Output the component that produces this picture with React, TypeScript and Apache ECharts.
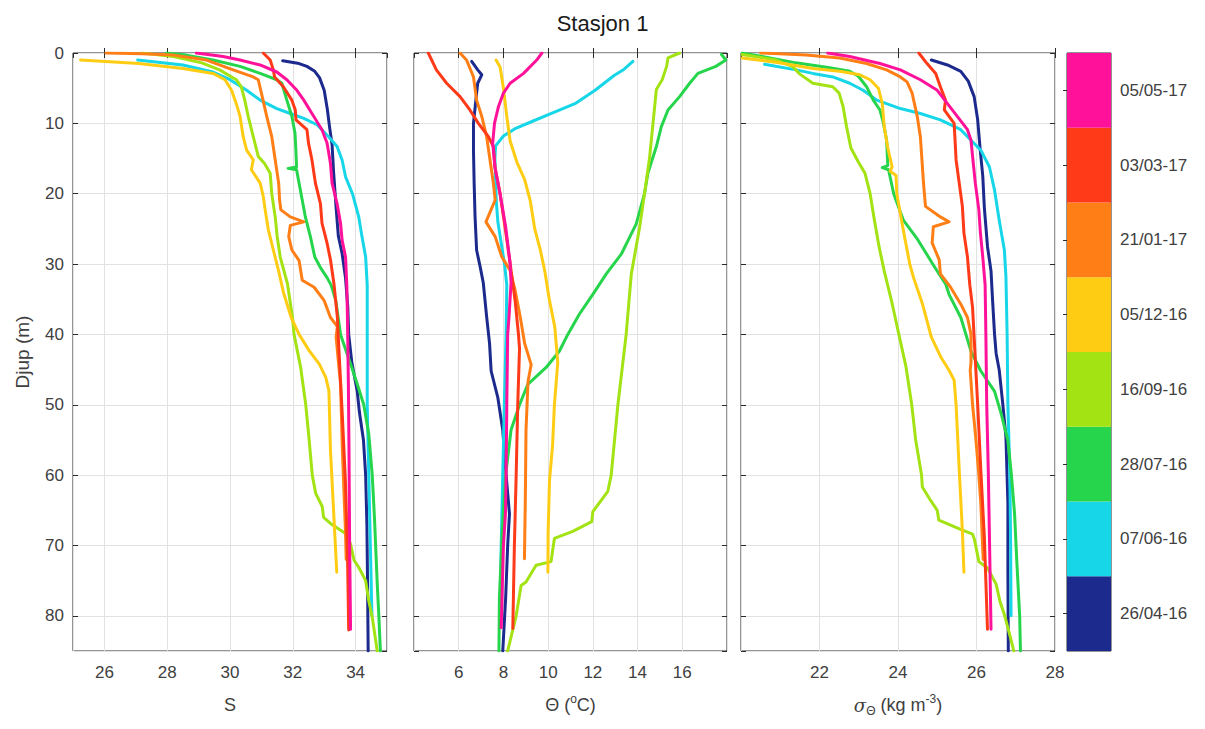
import React, { useEffect, useRef } from 'react';
import * as echarts from 'echarts';

// ---- categories (survey dates) and their colours ----
const dates = ['26/04-16', '07/06-16', '28/07-16', '16/09-16', '05/12-16', '21/01-17', '03/03-17', '05/05-17'];
const dateColors = ['#1b2a8c', '#16d6e8', '#26d54b', '#a3e314', '#ffcc14', '#ff7f16', '#ff3a18', '#ff1299'];

// ---- Salinity S, pairs [S, depth m] ----
const sal_260416 = [[31.68,1.1],[32.2,1.5],[32.45,1.9],[32.7,2.6],[32.85,3.5],[33.0,5.3],[33.1,8],[33.17,10.5],[33.25,13],[33.3,17],[33.38,22],[33.45,26],[33.57,28.5],[33.68,32],[33.75,36],[33.78,40],[33.88,44],[34.05,48],[34.12,51],[34.25,55],[34.32,60],[34.36,67],[34.38,75],[34.4,85]];
const sal_070616 = [[27.06,1],[28.5,1.7],[29.46,2.7],[30.0,3.8],[30.53,5.3],[30.96,6.7],[31.49,7.9],[31.92,8.6],[32.35,9.3],[32.77,10.2],[33.14,11.9],[33.41,13.3],[33.57,15.2],[33.68,17.6],[33.9,20],[34.1,23.3],[34.2,26],[34.32,29],[34.37,33],[34.37,40],[34.37,50],[34.42,60],[34.47,70],[34.52,80]];
const sal_280716 = [[27.97,0],[28.6,0.3],[29.46,1],[30.32,1.9],[30.96,2.9],[31.49,3.8],[31.65,4.3],[31.81,6.7],[31.97,9],[32.07,11.4],[32.1,14],[32.12,16.2],[31.85,16.4],[32.12,16.6],[32.2,18.5],[32.3,20.9],[32.4,23.3],[32.56,26.1],[32.7,29],[32.88,30.5],[33.1,32],[33.22,33],[33.37,35.2],[33.52,40],[33.84,44.2],[34.05,47],[34.26,50],[34.42,54.2],[34.53,60],[34.6,66],[34.69,75.5],[34.74,80],[34.79,85]];
const sal_160916 = [[27.2,0],[28.2,0.5],[29.1,1.4],[29.67,2.4],[30.2,3.8],[30.36,4.8],[30.47,6.7],[30.58,9],[30.74,11.9],[30.9,14.7],[31.1,15.7],[31.28,17.1],[31.33,20],[31.44,23.3],[31.5,26],[31.6,29],[31.83,32.8],[31.99,37.6],[32.04,40],[32.25,44.7],[32.41,49.9],[32.5,54],[32.62,60],[32.73,62.6],[32.94,64.5],[32.98,66],[33.21,66.9],[33.68,68.3],[33.84,69.8],[33.95,72.1],[34.1,73.1],[34.32,75],[34.42,77.9],[34.53,80.2],[34.69,85]];
const sal_051216 = [[25.24,1],[27.1,1.5],[28.5,2.2],[29.46,2.9],[29.84,3.8],[30.05,5.3],[30.2,7.2],[30.32,9],[30.42,11.9],[30.53,13.8],[30.74,15.2],[30.68,16.6],[30.96,18.5],[31.06,20.4],[31.12,22.3],[31.22,25.1],[31.38,28],[31.55,31],[31.7,34],[31.95,37.6],[32.2,40],[32.52,42.3],[32.84,44.2],[33.05,46.1],[33.15,48],[33.2,56.5],[33.31,66],[33.4,73.8]];
const sal_210117 = [[26.05,0],[27.2,0.1],[28.2,0.3],[29.25,1],[30.1,2.4],[30.74,3.4],[30.9,3.8],[31.0,5.7],[31.17,9],[31.33,11.9],[31.44,15.2],[31.55,18.5],[31.58,20.9],[31.62,22.3],[31.92,23.3],[32.35,24],[31.92,24.5],[31.87,26.1],[31.97,28],[32.2,29.5],[32.3,32.3],[32.68,33.3],[33.0,35.2],[33.2,37.6],[33.42,38.9],[33.38,40.4],[33.47,44.7],[33.52,47],[33.58,56.5],[33.68,68.3],[33.7,72]];
const sal_030317 = [[31.06,0],[31.28,1],[31.38,2.4],[31.42,3.4],[31.7,4.8],[31.97,6.7],[32.08,8.1],[32.1,9.5],[32.45,10.9],[32.5,12.8],[32.61,15.2],[32.72,18.5],[32.88,21.4],[32.93,24.2],[33.09,27],[33.2,29.4],[33.31,32.8],[33.42,37.6],[33.47,42.3],[33.58,51.8],[33.68,61.3],[33.74,70.8],[33.78,82]];
const sal_050517 = [[28.93,0],[29.78,0.5],[30.32,1],[30.96,1.7],[31.49,2.7],[31.81,3.8],[32.13,5.3],[32.35,6.7],[32.61,8.6],[32.93,10.9],[33.09,12.8],[33.2,15.7],[33.25,18.5],[33.41,21.4],[33.52,24.2],[33.57,26.6],[33.68,29],[33.72,33],[33.74,37.6],[33.77,47],[33.79,56.5],[33.81,70],[33.84,81.9]];

// ---- Potential temperature Θ (°C), pairs [Θ, depth m] ----
const temp_260416 = [[6.58,1.2],[6.85,2.4],[7.03,3.1],[6.85,4.3],[6.8,5.7],[6.66,10],[6.66,13.8],[6.69,18.5],[6.73,23.2],[6.8,28],[6.96,30.4],[7.1,32.7],[7.25,37.5],[7.38,41.3],[7.45,45.2],[7.75,49],[7.97,53.6],[8.12,60],[8.27,65.5],[8.19,70],[8.1,77.4],[7.97,85]];
const temp_070616 = [[13.79,1.2],[13.4,2.3],[12.95,3.2],[12.1,5.3],[11.2,7.2],[10.2,8.5],[9.3,9.7],[8.5,10.8],[8.0,11.8],[7.65,13.2],[7.62,15],[7.65,18],[7.68,21],[7.75,24],[7.9,27],[8.05,30],[8.15,33],[8.12,40],[8.04,50],[7.97,60],[7.9,70],[7.85,80]];
const temp_280716 = [[17.75,0.2],[17.95,1],[17.5,1.9],[16.7,2.9],[16.33,4.3],[15.88,6.2],[15.36,8.1],[15.06,10.5],[14.84,13.3],[14.46,17.1],[14.31,20],[13.94,24.3],[13.27,28.6],[12.6,31.4],[12.0,34.3],[11.4,37.1],[10.88,40],[10.5,42.4],[9.91,44.7],[9.09,47.1],[8.72,50],[8.34,53.6],[8.1,60],[7.95,68],[7.82,77.4],[7.8,85]];
const temp_160916 = [[15.88,0],[15.36,0.7],[15.3,1.9],[15.1,3.8],[14.84,5.2],[14.69,10],[14.54,14.8],[14.31,20],[14.09,24.8],[13.72,31.4],[13.49,40],[13.12,50],[12.82,60],[12.67,62.3],[12.0,65.2],[11.95,66.6],[11.1,68],[10.28,69],[10.13,72.3],[9.46,72.8],[9.01,75.2],[8.79,75.7],[8.57,80],[8.19,85]];
const temp_051216 = [[7.67,1],[7.85,2],[8.0,5],[8.15,9],[8.3,12.5],[8.6,15.5],[8.95,18],[9.2,21],[9.4,25],[9.65,28],[9.85,31],[10.05,35],[10.3,39],[10.43,44],[10.28,50],[10.2,55.7],[10.06,60.8],[10.0,68],[9.99,73.8]];
const temp_210117 = [[6.06,0],[6.35,1],[6.66,3.4],[6.8,6.7],[7.03,9],[7.25,11.9],[7.4,15.2],[7.55,18.5],[7.63,20.9],[7.22,24],[7.63,26.1],[7.93,29],[8.3,30.9],[8.52,33.7],[8.75,37.5],[8.95,41.3],[9.24,44.3],[9.1,46.7],[9.01,53.6],[8.98,63.2],[8.94,71.9]];
const temp_030317 = [[4.64,0],[5.0,2.4],[5.46,4.3],[6.06,6.2],[6.5,8.1],[6.88,10],[7.33,11.9],[7.55,13.3],[7.62,16.2],[7.85,20],[8.07,24.7],[8.3,29.9],[8.52,35.1],[8.67,39.9],[8.72,42],[8.64,50],[8.57,60],[8.49,70],[8.42,81.8]];
const temp_050517 = [[9.72,0],[9.49,1],[8.9,2.9],[8.3,4.3],[8.0,5.7],[7.78,7.6],[7.6,10],[7.52,12.8],[7.62,16.2],[7.85,20],[8.1,24.7],[8.3,29.9],[8.34,32.7],[8.25,37.5],[8.19,40],[8.15,50],[8.12,60],[8.09,65.5],[8.0,70],[7.9,81.7]];

// ---- Potential density anomaly σΘ (kg m-3), pairs [σ, depth m] ----
const dens_260416 = [[24.85,1],[25.26,1.7],[25.6,2.6],[25.79,4],[25.94,6.2],[26.03,9.5],[26.09,13.5],[26.16,17.5],[26.2,22],[26.28,27.5],[26.37,31],[26.41,35.2],[26.46,40],[26.5,42.7],[26.58,45.1],[26.67,49.9],[26.75,54.6],[26.8,64],[26.8,73.5],[26.81,85]];
const dens_070616 = [[20.6,1.6],[21.4,2.4],[21.83,2.9],[22.34,3.4],[22.77,4.3],[23.11,5.3],[23.46,6.7],[24.06,7.9],[24.57,8.6],[25.08,9.5],[25.6,10.9],[25.86,12.4],[26.11,13.8],[26.33,16.2],[26.46,19.5],[26.58,23.8],[26.71,28],[26.75,31.8],[26.78,40],[26.8,50],[26.85,60],[26.87,70],[26.88,80]];
const dens_280716 = [[20.03,0],[20.54,0.5],[21.4,1.4],[22.26,2.1],[22.77,2.6],[22.99,3.3],[23.2,4.8],[23.37,6.7],[23.54,8.1],[23.63,10],[23.71,12.4],[23.74,16],[23.6,16.3],[23.76,16.6],[23.89,20],[24.14,23.8],[24.5,26.5],[24.92,30.3],[25.22,32.9],[25.3,34.3],[25.6,37.6],[25.73,40],[25.86,42.4],[26.11,45.2],[26.46,48.1],[26.63,51.3],[26.8,55.1],[26.89,60],[26.97,65.5],[27.03,72.6],[27.1,80],[27.12,85]];
const dens_160916 = [[20.03,0.2],[20.89,1],[21.31,1.9],[21.5,3],[21.83,4.3],[22.34,4.8],[22.5,5.7],[22.6,7.6],[22.69,10.5],[22.8,13.5],[22.99,15.5],[23.16,17.1],[23.29,20],[23.4,23.8],[23.52,27.6],[23.65,31],[23.85,35.6],[24.03,40.2],[24.2,44.5],[24.35,50],[24.45,55],[24.6,60],[24.62,61.7],[24.83,63.6],[25.0,65],[25.04,66.4],[25.55,67.6],[25.9,68.4],[25.95,69.2],[26.06,72.3],[26.28,73.2],[26.5,75.5],[26.6,78],[26.72,80],[26.86,83],[26.95,85]];
const dens_051216 = [[20.03,0.7],[20.97,1.4],[21.83,2.2],[22.51,2.6],[23.03,3.1],[23.29,3.8],[23.5,5],[23.6,7.2],[23.65,10.5],[23.74,13.5],[23.85,16.2],[23.8,16.8],[23.95,17.4],[23.97,20],[24.08,23.5],[24.18,26.5],[24.3,30],[24.4,32],[24.62,35.6],[24.85,40.4],[25.09,43.2],[25.3,45.1],[25.43,46.5],[25.48,50],[25.52,54.6],[25.56,59.3],[25.64,67.9],[25.68,73.8]];
const dens_210117 = [[20.5,0],[21.66,0.3],[22.51,0.7],[23.2,1.5],[23.71,2.4],[24.06,3.4],[24.23,4.1],[24.36,5.7],[24.49,9],[24.57,11.9],[24.61,15.2],[24.65,18.5],[24.7,21.8],[25.08,23.3],[25.3,24],[24.9,24.7],[24.87,27],[25.05,29.4],[25.08,31.4],[25.34,33.3],[25.6,35.7],[25.77,37.6],[25.86,40],[25.86,44],[25.84,45.1],[25.9,50],[25.98,54.6],[26.05,59.3],[26.11,64],[26.17,72]];
const dens_030317 = [[24.53,0],[24.74,1.5],[24.96,2.9],[25.08,4.8],[25.21,6.7],[25.18,8.1],[25.43,10],[25.45,12],[25.48,15.2],[25.56,18.5],[25.64,21.8],[25.68,25.6],[25.77,29],[25.83,33],[25.9,36.2],[25.94,40.4],[26.03,50],[26.11,59.3],[26.2,68.8],[26.28,81.9]];
const dens_050517 = [[22.21,0],[22.77,0.5],[23.54,1.5],[24.06,2.4],[24.57,3.8],[25.0,5.3],[25.26,7.2],[25.51,9],[25.77,10.9],[25.86,12.4],[25.9,14.7],[25.97,18.5],[26.06,22.3],[26.1,25.6],[26.16,29],[26.22,33],[26.24,40.4],[26.26,49.9],[26.3,59.3],[26.33,68.8],[26.37,81.9]];

const salinity = [sal_260416, sal_070616, sal_280716, sal_160916, sal_051216, sal_210117, sal_030317, sal_050517];
const temperature = [temp_260416, temp_070616, temp_280716, temp_160916, temp_051216, temp_210117, temp_030317, temp_050517];
const density = [dens_260416, dens_070616, dens_280716, dens_160916, dens_051216, dens_210117, dens_030317, dens_050517];

const depthMin = 0;
const depthMax = 85;
const depthStep = 10;

const FONT = "'Liberation Sans', Arial, Helvetica, sans-serif";
const BOX = '#2b2b2b';
const GRIDC = '#e2e2e2';
const LABEL = '#404040';

export default function App() {
  const ref = useRef<HTMLDivElement>(null);
  useEffect(() => {
    if (!ref.current) return;
    const chart = echarts.init(ref.current, undefined, { renderer: 'svg' });

    const top = 53;
    const height = 598;
    const grids = [
      { left: 73, top, width: 314, height },
      { left: 414, top, width: 313, height },
      { left: 741, top, width: 314, height },
      { left: 1067, top, width: 44, height },
    ].map((g) => ({ ...g, show: true, borderColor: BOX, borderWidth: 1, backgroundColor: 'transparent' }));

    const xRanges: any[] = [
      { min: 25, max: 35 },
      { min: 4, max: 18, interval: 2 },
      { min: 20, max: 28, interval: 2 },
    ];
    const supStyle = { fontSize: 12, lineHeight: 12, verticalAlign: 'top', fontFamily: FONT, color: LABEL };
    const subStyle = { fontSize: 12, lineHeight: 12, verticalAlign: 'bottom', fontFamily: FONT, color: LABEL };
    const xNames = ['S', 'Θ ({sup|o}C)', '{sig|σ}{sub|Θ} (kg m{sup|-3})'];

    const xAxis: any[] = [];
    for (let i = 0; i < 3; i++) {
      xAxis.push({
        type: 'value',
        gridIndex: i,
        position: 'bottom',
        ...xRanges[i],
        axisLine: { show: false },
        axisTick: { show: true, inside: true, length: 5, lineStyle: { color: BOX } },
        axisLabel: {
          fontSize: 17, color: LABEL, margin: 13, fontFamily: FONT,
          showMinLabel: false, showMaxLabel: i === 2,
        },
        splitLine: { show: true, lineStyle: { color: GRIDC, width: 1 } },
        name: xNames[i],
        nameLocation: 'middle',
        nameGap: 42,
        nameTextStyle: {
          fontSize: 18, lineHeight: 24, color: LABEL, fontFamily: FONT,
          rich: {
            sup: supStyle,
            sub: subStyle,
            sig: { fontSize: 18, lineHeight: 24, fontStyle: 'italic', fontFamily: "'DejaVu Serif', serif", color: LABEL },
          },
        },
      });
    }
    for (let i = 0; i < 3; i++) {
      xAxis.push({
        type: 'value',
        gridIndex: i,
        position: 'top',
        ...xRanges[i],
        axisLine: { show: false },
        axisTick: { show: true, inside: true, length: 5, lineStyle: { color: BOX } },
        axisLabel: { show: false },
        splitLine: { show: false },
      });
    }
    xAxis.push({ type: 'value', gridIndex: 3, min: 0, max: 1, show: false });

    const yAxis: any[] = [];
    for (let i = 0; i < 3; i++) {
      yAxis.push({
        type: 'value',
        gridIndex: i,
        position: 'left',
        inverse: true,
        min: depthMin,
        max: depthMax,
        interval: depthStep,
        axisLine: { show: false },
        axisTick: { show: true, inside: true, length: 5, lineStyle: { color: BOX } },
        axisLabel: { show: i === 0, fontSize: 17, color: LABEL, margin: 9, fontFamily: FONT, showMaxLabel: false },
        splitLine: { show: true, lineStyle: { color: GRIDC, width: 1 } },
        name: i === 0 ? 'Djup (m)' : '',
        nameLocation: 'middle',
        nameGap: 41,
        nameTextStyle: { fontSize: 19, color: LABEL, fontFamily: FONT },
      });
    }
    for (let i = 0; i < 3; i++) {
      yAxis.push({
        type: 'value',
        gridIndex: i,
        position: 'right',
        inverse: true,
        min: depthMin,
        max: depthMax,
        interval: depthStep,
        axisLine: { show: false },
        axisTick: { show: true, inside: true, length: 5, lineStyle: { color: BOX } },
        axisLabel: { show: false },
        splitLine: { show: false },
      });
    }
    yAxis.push({
      type: 'category',
      gridIndex: 3,
      position: 'right',
      data: dates,
      axisLine: { show: false },
      axisTick: { show: true, inside: true, alignWithLabel: true, length: 4, lineStyle: { color: BOX } },
      axisLabel: { fontSize: 17, color: LABEL, margin: 9, fontFamily: FONT },
      splitLine: { show: false },
    });

    const series: any[] = [];
    const panels = [salinity, temperature, density];
    panels.forEach((profiles, p) => {
      profiles.forEach((data, d) => {
        series.push({
          type: 'line',
          name: dates[d],
          xAxisIndex: p,
          yAxisIndex: p,
          data,
          showSymbol: false,
          symbol: 'none',
          clip: true,
          color: dateColors[d],
          lineStyle: { width: 3, color: dateColors[d], join: 'round', cap: 'round' },
          silent: true,
        });
      });
    });
    series.push({
      type: 'bar',
      xAxisIndex: 6,
      yAxisIndex: 6,
      barWidth: '100%',
      barCategoryGap: 0,
      silent: true,
      data: dates.map((_, i) => ({ value: 1, itemStyle: { color: dateColors[i] } })),
    });

    chart.setOption({
      animation: false,
      backgroundColor: '#ffffff',
      title: {
        text: 'Stasjon 1',
        left: 'center',
        top: 7,
        textStyle: { fontSize: 22, fontWeight: 'normal', color: '#1a1a1a', fontFamily: FONT },
      },
      grid: grids,
      xAxis,
      yAxis,
      series,
    });
    return () => chart.dispose();
  }, []);
  return (
    <div
      ref={ref}
      style={{ position: 'fixed', left: 0, top: 0, width: 1205, height: 729, background: '#fff' }}
    />
  );
}
